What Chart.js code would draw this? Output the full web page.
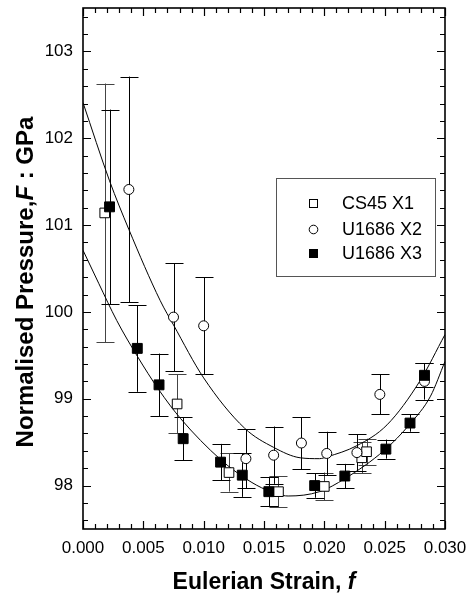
<!DOCTYPE html>
<html><head><meta charset="utf-8">
<script src="https://cdn.jsdelivr.net/npm/chart.js@4.4.1/dist/chart.umd.min.js"></script>
<style>html,body{margin:0;padding:0;background:#fff}canvas{display:block}</style>
</head><body>
<canvas id="c" width="468" height="594"></canvas>
<script>
// ---- data ----
const x1Strain   = [0.0018, 0.0078, 0.0121, 0.0162, 0.0200, 0.0231, 0.0235];
const x1Pressure = [101.14, 98.94, 98.15, 97.93, 97.99, 98.32, 98.39];
const x1Error    = [1.49, 0.34, 0.22, 0.18, 0.16, 0.18, 0.15];

const x2Strain   = [0.0038, 0.0075, 0.0100, 0.0135, 0.0158, 0.0181, 0.0202, 0.0227, 0.0246, 0.0283];
const x2Pressure = [101.41, 99.94, 99.84, 98.31, 98.35, 98.49, 98.37, 98.38, 99.05, 99.20];
const x2Error    = [1.30, 0.62, 0.56, 0.34, 0.33, 0.30, 0.25, 0.21, 0.23, 0.21];

const x3Strain   = [0.0022, 0.0045, 0.0063, 0.0083, 0.0114, 0.0132, 0.0154, 0.0192, 0.0217, 0.0251, 0.0271, 0.0283];
const x3Pressure = [101.21, 99.58, 99.16, 98.54, 98.27, 98.12, 97.93, 98.00, 98.11, 98.42, 98.72, 99.27];
const x3Error    = [1.12, 0.50, 0.36, 0.25, 0.21, 0.25, 0.17, 0.14, 0.14, 0.11, 0.10, 0.14];

const fitUpperStrain   = [0, 0.0022, 0.0038, 0.0064, 0.0075, 0.0100, 0.0134, 0.0158, 0.0180, 0.0196, 0.0202, 0.0227, 0.0252, 0.0279, 0.0300];
const fitUpperPressure = [102.41, 101.51, 100.95, 100.13, 99.85, 99.24, 98.66, 98.44, 98.32, 98.31, 98.33, 98.46, 98.70, 99.20, 99.74];

const fitLowerStrain   = [0, 0.0013, 0.0028, 0.0045, 0.0063, 0.0081, 0.0114, 0.0136, 0.0152, 0.0170, 0.0196, 0.0217, 0.0250, 0.0271, 0.0288, 0.0300];
const fitLowerPressure = [100.71, 100.33, 99.90, 99.49, 99.10, 98.77, 98.30, 98.07, 97.95, 97.88, 97.93, 98.08, 98.41, 98.71, 99.03, 99.43];

const xTicks = [0, 0.005, 0.010, 0.015, 0.020, 0.025, 0.030];
const yTicks = [98, 99, 100, 101, 102, 103];
const seriesNames = ['CS45 X1', 'U1686 X2', 'U1686 X3'];

const pts = (xs, ys) => xs.map((v, i) => ({x: v, y: ys[i]}));
const FONT = "'Liberation Sans', Arial, sans-serif";

const errorBars = {
  id: 'errorBars',
  beforeDatasetsDraw(chart) {
    const {ctx, scales: {x, y}} = chart;
    ctx.save();
    chart.data.datasets.forEach(ds => {
      if (!ds.errors) return;
      ctx.strokeStyle = ds.errColor || '#000';
      ctx.lineWidth = 1;
      ds.data.forEach((p, j) => {
        const px = Math.round(x.getPixelForValue(p.x)) + 0.5;
        const yt = y.getPixelForValue(p.y + ds.errors[j]);
        const yb = y.getPixelForValue(p.y - ds.errors[j]);
        ctx.beginPath();
        ctx.moveTo(px, yt); ctx.lineTo(px, yb);
        ctx.moveTo(px - 9, Math.round(yt) + 0.5); ctx.lineTo(px + 9, Math.round(yt) + 0.5);
        ctx.moveTo(px - 9, Math.round(yb) + 0.5); ctx.lineTo(px + 9, Math.round(yb) + 0.5);
        ctx.stroke();
      });
    });
    ctx.restore();
  }
};

const frameTicks = {
  id: 'frameTicks',
  afterDatasetsDraw(chart) {
    const {ctx, chartArea: a, scales: {x, y}} = chart;
    ctx.save();
    ctx.strokeStyle = '#000';
    ctx.lineWidth = 1.2;
    ctx.beginPath();
    for (let i = 0; i <= 30; i++) {
      const v = i * 0.001;
      const px = Math.round(x.getPixelForValue(v)) + 0.5;
      const L = i % 5 === 0 ? 8 : 5;
      ctx.moveTo(px, a.bottom); ctx.lineTo(px, a.bottom - L);
      ctx.moveTo(px, a.top); ctx.lineTo(px, a.top + L);
    }
    for (let i = 0; i <= 29; i++) {
      const v = 97.6 + 0.2 * i;
      const py = Math.round(y.getPixelForValue(v)) + 0.5;
      const L = Math.abs(v - Math.round(v)) < 1e-6 ? 8 : 5;
      ctx.moveTo(a.left, py); ctx.lineTo(a.left + L, py);
      ctx.moveTo(a.right, py); ctx.lineTo(a.right - L, py);
    }
    ctx.stroke();
    ctx.lineWidth = 1.6;
    ctx.strokeRect(a.left, a.top, a.right - a.left, a.bottom - a.top);
    ctx.restore();
  }
};

function drawMixed(ctx, parts, cx, cy) {
  let total = 0;
  parts.forEach(p => { ctx.font = p.font; p.w = ctx.measureText(p.text).width; total += p.w; });
  let xx = cx - total / 2;
  parts.forEach(p => { ctx.font = p.font; ctx.fillText(p.text, xx, cy); xx += p.w; });
}

const overlay = {
  id: 'overlay',
  afterDraw(chart) {
    const {ctx} = chart;
    ctx.save();
    ctx.fillStyle = '#000';
    ctx.textBaseline = 'alphabetic';
    ctx.textAlign = 'left';
    // x title
    drawMixed(ctx, [
      {text: 'Eulerian Strain, ', font: `bold 23px ${FONT}`},
      {text: 'f', font: `italic bold 23px ${FONT}`}
    ], 264, 589);
    // y title
    ctx.save();
    ctx.translate(33, 282);
    ctx.rotate(-Math.PI / 2);
    drawMixed(ctx, [
      {text: 'Normalised Pressure,', font: `bold 24px ${FONT}`},
      {text: 'F', font: `italic bold 24px ${FONT}`},
      {text: ' : GPa', font: `bold 24px ${FONT}`}
    ], 0, 0);
    ctx.restore();
    // legend
    ctx.strokeStyle = '#555';
    ctx.lineWidth = 1;
    ctx.strokeRect(276.5, 178.5, 159, 98);
    const rows = [203, 229, 253];
    ctx.font = `18px ${FONT}`;
    ctx.textBaseline = 'middle';
    ctx.lineWidth = 1;
    ctx.strokeStyle = '#000';
    rows.forEach((ry, i) => {
      const mx = 313;
      if (i === 0) { ctx.fillStyle = '#fff'; ctx.fillRect(mx - 4, ry - 4, 9, 9); ctx.strokeRect(mx - 4 + 0.5, ry - 4 + 0.5, 8, 8); }
      if (i === 1) { ctx.beginPath(); ctx.arc(mx + 0.5, ry + 0.5, 4.3, 0, Math.PI * 2); ctx.fillStyle = '#fff'; ctx.fill(); ctx.stroke(); }
      if (i === 2) { ctx.fillStyle = '#000'; ctx.fillRect(mx - 4, ry - 4, 9, 9); }
      ctx.fillStyle = '#000';
      ctx.fillText(seriesNames[i], 342, ry + 1);
    });
    ctx.restore();
  }
};

new Chart(document.getElementById('c'), {
  type: 'scatter',
  data: {
    datasets: [
      {label: seriesNames[0], data: pts(x1Strain, x1Pressure), errors: x1Error, errColor: '#444',
       pointStyle: 'rect', pointRadius: 6.8, backgroundColor: '#fff', borderColor: '#000', borderWidth: 1, order: 2},
      {label: seriesNames[1], data: pts(x2Strain, x2Pressure), errors: x2Error,
       pointStyle: 'circle', pointRadius: 5, backgroundColor: '#fff', borderColor: '#000', borderWidth: 1, order: 1},
      {label: seriesNames[2], data: pts(x3Strain, x3Pressure), errors: x3Error,
       pointStyle: 'rect', pointRadius: 7, backgroundColor: '#000', borderColor: '#000', borderWidth: 1, order: 0},
      {label: 'fit X2', type: 'line', data: pts(fitUpperStrain, fitUpperPressure), showLine: true,
       borderColor: '#000', borderWidth: 1, pointRadius: 0, cubicInterpolationMode: 'monotone', fill: false, order: 10},
      {label: 'fit X1+X3', type: 'line', data: pts(fitLowerStrain, fitLowerPressure), showLine: true,
       borderColor: '#000', borderWidth: 1, pointRadius: 0, cubicInterpolationMode: 'monotone', fill: false, order: 11}
    ]
  },
  options: {
    responsive: false,
    animation: false,
    devicePixelRatio: 1,
    layout: {padding: {top: 8, right: 23, left: 0, bottom: 0}},
    plugins: {legend: {display: false}, tooltip: {enabled: false}},
    scales: {
      x: {
        type: 'linear', position: 'bottom', min: 0, max: 0.03,
        grid: {display: false, drawTicks: false}, border: {display: false},
        afterBuildTicks: s => { s.ticks = xTicks.map(v => ({value: v})); },
        afterFit: s => { s.height = 65; s.paddingLeft = 0; s.paddingRight = 0; },
        ticks: {color: '#000', font: {family: FONT, size: 17}, padding: 9, maxRotation: 0,
                callback: v => Number(v).toFixed(3)}
      },
      y: {
        type: 'linear', min: 97.5, max: 103.5,
        grid: {display: false, drawTicks: false}, border: {display: false},
        afterBuildTicks: s => { s.ticks = yTicks.map(v => ({value: v})); },
        afterFit: s => { s.width = 83; s.paddingTop = 0; s.paddingBottom = 0; },
        ticks: {color: '#000', font: {family: FONT, size: 17}, padding: 10,
                callback: v => String(Math.round(v))}
      }
    }
  },
  plugins: [errorBars, frameTicks, overlay]
});
</script>
</body></html>
